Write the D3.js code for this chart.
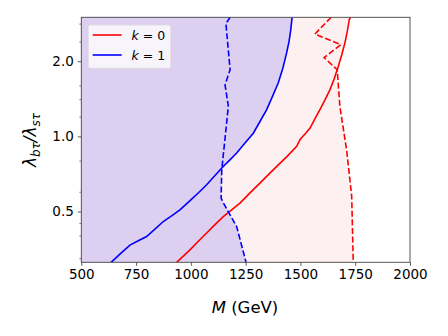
<!DOCTYPE html>
<html><head><meta charset="utf-8">
<script src="https://cdn.jsdelivr.net/npm/d3@7"></script>
<style>body{margin:0;background:#fff}svg{display:block;font-family:"DejaVu Sans",sans-serif}</style>
</head><body><svg id="c" width="448" height="336"></svg>
<script>
// Data (M in GeV, ratio lambda_btau/lambda_stau)
const xTicks = [500, 750, 1000, 1250, 1500, 1750, 2000];
const yTicks = [0.5, 1.0, 2.0];
const yMinorTicks = [2.83, 2.4, 1.6, 1.41, 1.2, 0.8, 0.6, 0.45, 0.4, 0.325];
const k1SolidM = [636, 680, 722, 760, 798, 836, 874, 912, 950, 1000, 1036, 1072, 1107, 1141, 1175, 1209, 1247, 1285, 1316, 1346, 1373, 1399, 1420, 1437, 1448, 1456, 1462];
const k1SolidR = [0.313, 0.34, 0.367, 0.382, 0.397, 0.425, 0.456, 0.48, 0.508, 0.557, 0.596, 0.64, 0.692, 0.747, 0.8, 0.858, 0.94, 1.03, 1.15, 1.28, 1.45, 1.64, 1.88, 2.16, 2.4, 2.68, 3.0];
const k0SolidM = [935, 996, 1034, 1072, 1110, 1148, 1186, 1224, 1270, 1315, 1354, 1392, 1438, 1483, 1498, 1506, 1524, 1544, 1567, 1589, 1612, 1635, 1655, 1673, 1689, 1703, 1714, 1723, 1729];
const k0SolidR = [0.313, 0.351, 0.38, 0.41, 0.443, 0.477, 0.508, 0.54, 0.594, 0.65, 0.703, 0.758, 0.83, 0.912, 0.97, 0.99, 1.03, 1.08, 1.18, 1.28, 1.4, 1.54, 1.71, 1.91, 2.13, 2.37, 2.64, 2.94, 3.0];
const k1DashM = [1179, 1160, 1179, 1156, 1171, 1141, 1138, 1145, 1209, 1252];
const k1DashR = [3.0, 2.83, 1.85, 1.61, 1.32, 0.735, 0.566, 0.548, 0.435, 0.313];
const k0DashM = [1640, 1566, 1684, 1608, 1668, 1680, 1711, 1734, 1741];
const k0DashR = [3.0, 2.57, 2.33, 2.07, 1.85, 1.32, 0.88, 0.575, 0.313];
const legendLabels = ["0", "1"];

const svg = d3.select("#c");
const L = 81.3, R = 410, T = 17.3, B = 262.3;
const x = d3.scaleLinear().domain([500, 2000]).range([L, R]);
const y = d3.scaleLog().domain([0.313, 3.0]).range([B, T]);

const zip = (a, b) => a.map((v, i) => [v, b[i]]);
const line = d3.line().x(d => x(d[0])).y(d => y(d[1]));

svg.append("defs").append("clipPath").attr("id", "clip")
  .append("rect").attr("x", L).attr("y", T).attr("width", R - L).attr("height", B - T);
const g = svg.append("g").attr("clip-path", "url(#clip)");

function fillLeft(M, Rr, color) {
  const pts = zip(M, Rr);
  const poly = [[500, Rr[0]], ...pts, [500, Rr[Rr.length - 1]]];
  g.append("path").attr("d", line(poly) + "Z")
    .attr("fill", color).attr("stroke", color).attr("stroke-width", 0.5);
}
const pink = "#fdf0f0", purple = "#dccff0";
fillLeft(k0SolidM, k0SolidR, pink);
fillLeft(k0DashM, k0DashR, pink);
fillLeft(k1SolidM, k1SolidR, purple);
fillLeft(k1DashM, k1DashR, purple);

const lw = 1.6, dash = "6,2.6";
g.append("path").attr("d", line(zip(k1SolidM, k1SolidR))).attr("fill", "none").attr("stroke", "#0000ff").attr("stroke-width", lw);
g.append("path").attr("d", line(zip(k0SolidM, k0SolidR))).attr("fill", "none").attr("stroke", "#ff0000").attr("stroke-width", lw);
g.append("path").attr("d", line(zip(k1DashM, k1DashR))).attr("fill", "none").attr("stroke", "#0000ff").attr("stroke-width", lw).attr("stroke-dasharray", dash);
g.append("path").attr("d", line(zip(k0DashM, k0DashR))).attr("fill", "none").attr("stroke", "#ff0000").attr("stroke-width", lw).attr("stroke-dasharray", dash);

// Axes
const xAxis = svg.append("g").attr("transform", `translate(0,${B})`)
  .call(d3.axisBottom(x).tickValues(xTicks).tickFormat(d3.format("d")).tickSize(3.5).tickPadding(4));
const yAxis = svg.append("g").attr("transform", `translate(${L},0)`)
  .call(d3.axisLeft(y).tickValues(yTicks).tickFormat(d3.format(".1f")).tickSize(3.5).tickPadding(4));
svg.append("g").attr("transform", `translate(${L},0)`)
  .call(d3.axisLeft(y).tickValues(yMinorTicks).tickFormat("").tickSize(2))
  .call(a => a.select(".domain").remove())
  .selectAll("line").attr("stroke", "#333").attr("stroke-width", 0.6);
[xAxis, yAxis].forEach(a => {
  a.select(".domain").remove();
  a.selectAll("line").attr("stroke", "#333").attr("stroke-width", 0.8);
  a.selectAll("text").attr("font-size", 13.5).attr("fill", "#000").attr("font-family", "DejaVu Sans");
});
svg.append("rect").attr("x", L).attr("y", T).attr("width", R - L).attr("height", B - T)
  .attr("fill", "none").attr("stroke", "#444").attr("stroke-width", 0.9);

// Axis labels
const xl = svg.append("text").attr("x", 245).attr("y", 313).attr("text-anchor", "middle")
  .attr("font-size", 16.5).attr("fill", "#000");
xl.append("tspan").attr("font-style", "italic").text("M");
xl.append("tspan").text(" (GeV)");

const yl = svg.append("text").attr("transform", "translate(36,140) rotate(-90)")
  .attr("text-anchor", "middle").attr("font-size", 17).attr("fill", "#000").attr("font-style", "italic");
yl.append("tspan").text("λ");
yl.append("tspan").attr("font-size", 12).attr("dy", 4).text("bτ");
yl.append("tspan").attr("dy", -4).text("/λ");
yl.append("tspan").attr("font-size", 12).attr("dy", 4).text("sτ");

// Legend
const lg = svg.append("g");
lg.append("rect").attr("x", 88.3).attr("y", 25).attr("width", 82.4).attr("height", 43.3).attr("rx", 2.5)
  .attr("fill", "#f7f4fc").attr("stroke", "#dddddd").attr("stroke-width", 0.8);
const lcol = ["#ff0000", "#0000ff"];
legendLabels.forEach((lab, i) => {
  const yy = 35 + i * 20;
  lg.append("line").attr("x1", 92.7).attr("x2", 121.7).attr("y1", yy).attr("y2", yy)
    .attr("stroke", lcol[i]).attr("stroke-width", lw);
  const t = lg.append("text").attr("x", 131.5).attr("y", yy + 4.5).attr("font-size", 12.5).attr("fill", "#000");
  t.append("tspan").attr("font-style", "italic").text("k");
  t.append("tspan").text(" = " + lab);
});
</script></body></html>
